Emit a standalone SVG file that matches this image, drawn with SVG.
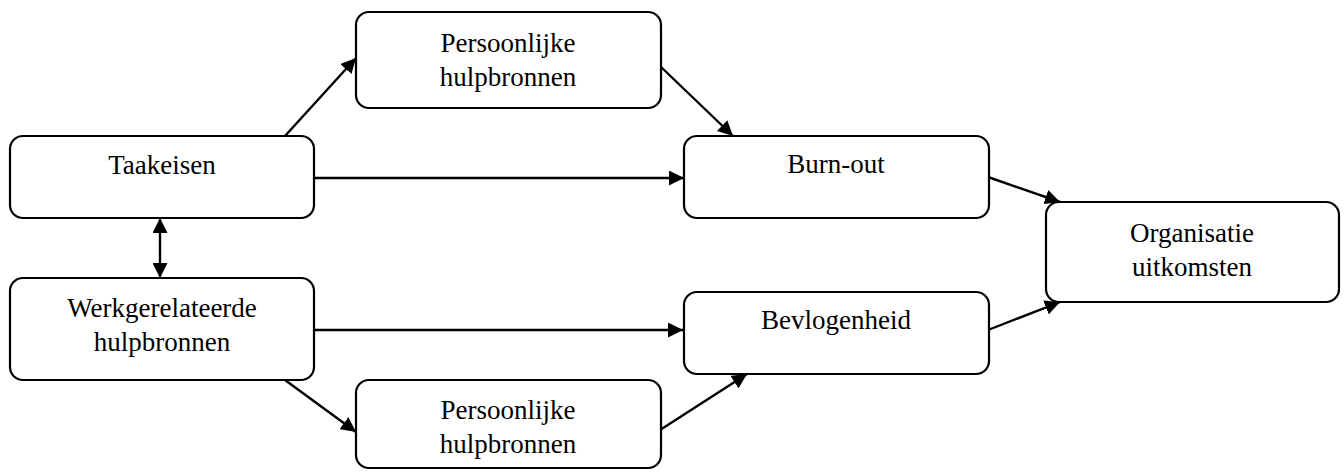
<svg xmlns="http://www.w3.org/2000/svg" width="1344" height="472" viewBox="0 0 1344 472">
<style>
.box{fill:#fff;stroke:#000;stroke-width:2.2}
.lbl{font-family:"Liberation Serif","Times New Roman",serif;font-size:27px;fill:#000;text-anchor:middle}
.con{stroke:#000;stroke-width:2.4;fill:none}
</style>
<defs>
<marker id="ah" markerUnits="userSpaceOnUse" markerWidth="15" markerHeight="15" refX="15" refY="7.5" orient="auto-start-reverse">
<path d="M0,0 L15,7.5 L0,15 Z" fill="#000"/>
</marker>
</defs>
<rect width="1344" height="472" fill="#fff"/>
<g id="connectors">
<line class="con" x1="285" y1="136" x2="356" y2="58" marker-end="url(#ah)"/>
<line class="con" x1="661" y1="67" x2="733" y2="136" marker-end="url(#ah)"/>
<line class="con" x1="312" y1="178" x2="684" y2="178" marker-end="url(#ah)"/>
<line class="con" x1="160" y1="218" x2="160" y2="278" marker-start="url(#ah)" marker-end="url(#ah)"/>
<line class="con" x1="314" y1="330" x2="683" y2="330" marker-end="url(#ah)"/>
<line class="con" x1="285" y1="380" x2="356" y2="432" marker-end="url(#ah)"/>
<line class="con" x1="660" y1="430" x2="747" y2="374" marker-end="url(#ah)"/>
<line class="con" x1="988" y1="177" x2="1060" y2="202" marker-end="url(#ah)"/>
<line class="con" x1="988" y1="330" x2="1060" y2="302" marker-end="url(#ah)"/>
</g>
<g id="taakeisen">
<rect class="box" x="10" y="136" width="304" height="82" rx="13"/>
<text class="lbl" x="162" y="174">Taakeisen</text>
</g>
<g id="werk">
<rect class="box" x="10" y="278" width="304" height="102" rx="13"/>
<text class="lbl" x="162" y="317">Werkgerelateerde</text>
<text class="lbl" x="162" y="351">hulpbronnen</text>
</g>
<g id="pers-top">
<rect class="box" x="356" y="12" width="305" height="96" rx="13"/>
<text class="lbl" x="508" y="52">Persoonlijke</text>
<text class="lbl" x="508" y="86">hulpbronnen</text>
</g>
<g id="pers-bottom">
<rect class="box" x="356" y="380" width="305" height="88" rx="13"/>
<text class="lbl" x="508" y="419">Persoonlijke</text>
<text class="lbl" x="508" y="453">hulpbronnen</text>
</g>
<g id="burnout">
<rect class="box" x="684" y="136" width="305" height="82" rx="13"/>
<text class="lbl" x="836" y="173">Burn-out</text>
</g>
<g id="bevlogenheid">
<rect class="box" x="684" y="292" width="305" height="82" rx="13"/>
<text class="lbl" x="836" y="329">Bevlogenheid</text>
</g>
<g id="organisatie">
<rect class="box" x="1046" y="202" width="293" height="100" rx="13"/>
<text class="lbl" x="1192" y="242">Organisatie</text>
<text class="lbl" x="1192" y="276">uitkomsten</text>
</g>
</svg>
